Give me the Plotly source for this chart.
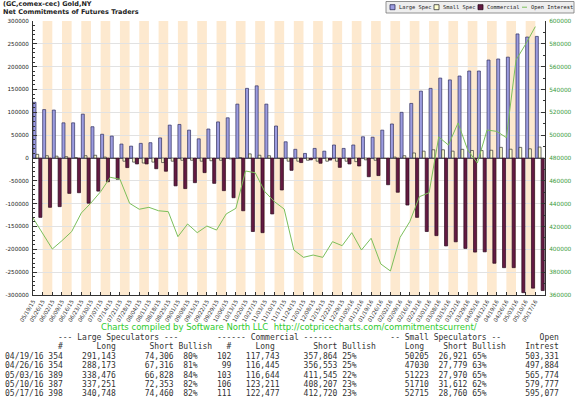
import plotly.graph_objects as go

# ---------------- data ----------------
dates = ["05/19/15","05/26/15","06/02/15","06/09/15","06/16/15","06/23/15","06/30/15",
         "07/07/15","07/14/15","07/21/15","07/28/15","08/04/15","08/11/15","08/18/15",
         "08/25/15","09/01/15","09/08/15","09/15/15","09/22/15","09/29/15","10/06/15",
         "10/13/15","10/20/15","10/27/15","11/03/15","11/10/15","11/17/15","11/24/15",
         "12/01/15","12/08/15","12/15/15","12/22/15","12/29/15","01/05/16","01/12/16",
         "01/19/16","01/26/16","02/02/16","02/09/16","02/16/16","02/23/16","03/01/16",
         "03/08/16","03/15/16","03/22/16","03/29/16","04/05/16","04/12/16","04/19/16",
         "04/26/16","05/03/16","05/10/16","05/17/16"]

large_spec = [122000,106000,105000,77000,77000,96000,68500,52000,48000,30500,
              26000,32000,33500,44000,72000,73500,61000,42000,63500,79000,
              88000,118000,152500,158000,118000,70000,35500,19000,10000,21000,
              15000,28500,21000,28500,46500,45500,61000,74500,100000,119500,
              146500,152500,175000,171000,179500,190500,190500,214500,216837,220857,
              271648,264898,266288]

small_spec = [8000,5000,4000,3000,1000,5000,6000,2000,-1000,-7000,
              -9000,-11000,-9000,-10000,-7000,-5000,-5000,-7000,-6000,-5000,
              -2000,1000,9000,6000,5000,-1000,-7000,-7000,-5000,-7000,
              -7000,-7000,-7000,-8000,-4000,-5000,-1000,2000,5000,11000,
              15000,18000,18000,15000,19000,16500,16500,17000,23284,19251,
              23253,20098,23955]

commercial = [-130000,-108000,-106500,-77500,-76000,-99000,-72500,-52000,-46500,-21000,
              -13000,-13000,-23500,-29000,-61000,-67000,-54000,-32000,-55500,-71500,
              -87000,-115500,-161000,-163500,-122500,-70000,-27000,-10000,-4000,-11500,
              -4500,-20500,-13000,-17500,-41000,-38500,-58500,-75000,-103000,-130000,
              -161000,-170000,-192500,-183500,-198000,-206000,-205500,-230500,-240121,-240108,
              -294901,-284996,-290243]

open_interest = [427500,414300,400300,407600,415500,431800,440600,450500,463100,461400,
                 440300,435100,436800,433800,433000,411100,422200,414600,420400,416900,
                 431000,435900,468600,467100,450500,441700,435300,399400,393000,395000,
                 393000,406700,403200,414600,399400,409700,387200,381000,410500,424200,
                 446100,449600,498400,491400,510700,487000,475600,504500,503331,497884,
                 565774,579777,595077]

left_ticks = [300000,250000,200000,150000,100000,50000,0,-50000,-100000,-150000,-200000,-250000,-300000]
right_ticks = [600000,580000,560000,540000,520000,500000,480000,460000,440000,420000,400000,380000,360000]

# table data
tbl_dates = ["04/19/16","04/26/16","05/03/16","05/10/16","05/17/16"]
ls_traders = [354,354,389,387,398]
ls_long = [291143,288173,338476,337251,340748]
ls_short = [74306,67316,66828,72353,74460]
ls_bull = [80,81,84,82,82]
cm_traders = [102,99,103,106,111]
cm_long = [117743,116445,116644,123211,122477]
cm_short = [357864,356553,411545,408207,412720]
cm_bull = [25,25,22,23,23]
ss_long = [50205,47030,51223,51710,52715]
ss_short = [26921,27779,27970,31612,28760]
ss_bull = [65,63,65,62,65]
oi_tbl = [503331,497884,565774,579777,595077]

# ---------------- figure ----------------
W, H = 576, 397
L, R, T, B = 33, 545, 21, 295

def px(v):
    return (v - L) / (R - L)

def py(v):
    return (B - v) / (B - T)

LS_COL, LS_LINE = "#9c9ce0", "#2e2e5e"
SS_COL, SS_LINE = "#ffffd0", "#333333"
CM_COL, CM_LINE = "#641a42", "#2a0a1c"
OI_COL = "#7cbf5a"

xs = list(range(len(dates)))
fig = go.Figure()
fig.add_trace(go.Bar(x=xs, y=large_spec, offset=0.0, width=0.31, name="Large Spec",
                     marker=dict(color=LS_COL, line=dict(color=LS_LINE, width=0.7))))
fig.add_trace(go.Bar(x=xs, y=small_spec, offset=0.31, width=0.28, name="Small Spec",
                     marker=dict(color=SS_COL, line=dict(color=SS_LINE, width=0.7))))
fig.add_trace(go.Bar(x=xs, y=commercial, offset=0.6, width=0.32, name="Commercial",
                     marker=dict(color=CM_COL, line=dict(color=CM_LINE, width=0.7))))
fig.add_trace(go.Scatter(x=xs, y=open_interest, yaxis="y2", mode="lines", name="Open Interest",
                         line=dict(color=OI_COL, width=1)))

shapes = []
for k in xs:
    if k % 2 == 1:
        shapes.append(dict(type="rect", xref="x", yref="paper", x0=k, x1=k + 1, y0=0, y1=1,
                           fillcolor="#fde9cf", line=dict(width=0), layer="below"))

# manual legend
shapes.append(dict(type="rect", xref="paper", yref="paper", x0=px(386), x1=px(574),
                   y0=py(13), y1=py(1.5), fillcolor="#eeeeee", layer="below",
                   line=dict(color="#777777", width=0.8)))
annotations = []
leg_items = [("Large Spec", LS_COL, LS_LINE, "sq", 390),
             ("Small Spec", SS_COL, SS_LINE, "sq", 434),
             ("Commercial", CM_COL, CM_LINE, "sq", 478),
             ("Open Interest", OI_COL, OI_COL, "ln", 522)]
for name, fc, lc, kind, x0 in leg_items:
    if kind == "sq":
        shapes.append(dict(type="rect", xref="paper", yref="paper", x0=px(x0), x1=px(x0 + 5),
                           y0=py(9.7), y1=py(4.7), fillcolor=fc, line=dict(color=lc, width=0.8)))
    else:
        shapes.append(dict(type="line", xref="paper", yref="paper", x0=px(x0), x1=px(x0 + 5),
                           y0=py(7.2), y1=py(7.2), line=dict(color=lc, width=1)))
    annotations.append(dict(text=name, xref="paper", yref="paper", x=px(x0 + 7), y=py(7.2),
                            xanchor="left", yanchor="middle", showarrow=False,
                            font=dict(family="DejaVu Sans Mono", size=5.4, color="#222222")))

# title
annotations.append(dict(text="<b>(GC,comex-cec) Gold,NY</b>", xref="paper", yref="paper",
                        x=px(1), y=py(4.5), xanchor="left", yanchor="middle", showarrow=False,
                        font=dict(family="DejaVu Sans", size=6.5, color="#222222")))
annotations.append(dict(text="<b>Net Commitments of Futures Traders</b>", xref="paper", yref="paper",
                        x=px(1), y=py(11.5), xanchor="left", yanchor="middle", showarrow=False,
                        font=dict(family="DejaVu Sans", size=6.5, color="#222222")))

# credit line
annotations.append(dict(text="Charts compiled by Software North LLC  http://cotpricecharts.com/commitmentscurrent/",
                        xref="paper", yref="paper", x=px(289), y=py(326.5), xanchor="center",
                        yanchor="middle", showarrow=False,
                        font=dict(family="DejaVu Sans", size=8.5, color="#2ecc2e")))

# table
def place(line, col, text):
    if len(line) < col:
        line = line + " " * (col - len(line))
    return line[:col] + text + line[col + len(text):]

def rjust(line, end, text):
    return place(line, end - len(text), text)

hdr1 = ""
hdr1 = place(hdr1, 11, "--- Large Speculators ---")
hdr1 = place(hdr1, 44, "------ Commercial ------")
hdr1 = place(hdr1, 80, "-- Small Speculators --")
hdr1 = place(hdr1, 111, "Open")
hdr2 = ""
for c, t in [(11, "#"), (19, "Long"), (30, "Short"), (36, "Bullish"), (46, "#"), (52, "Long"),
             (64, "Short"), (70, "Bullish"), (83, "Long"), (91, "Short"), (97, "Bullish"), (108, "Intrest")]:
    hdr2 = place(hdr2, c, t)
lines = [hdr1, hdr2]
for i in range(len(tbl_dates)):
    s = tbl_dates[i]
    s = rjust(s, 12, str(ls_traders[i]))
    s = rjust(s, 23, f"{ls_long[i]:,}")
    s = rjust(s, 35, f"{ls_short[i]:,}")
    s = rjust(s, 40, f"{ls_bull[i]}%")
    s = rjust(s, 47, str(cm_traders[i]))
    s = rjust(s, 57, f"{cm_long[i]:,}")
    s = rjust(s, 69, f"{cm_short[i]:,}")
    s = rjust(s, 73, f"{cm_bull[i]}%")
    s = rjust(s, 88, str(ss_long[i]))
    s = rjust(s, 96, f"{ss_short[i]:,}")
    s = rjust(s, 100, f"{ss_bull[i]}%")
    s = rjust(s, 115, f"{oi_tbl[i]:,}")
    lines.append(s)
row_y = [337, 346.3, 356.5, 365.8, 375, 384.2, 393]
for s, yy in zip(lines, row_y):
    annotations.append(dict(text=s.replace(" ", "\u00a0"), xref="paper", yref="paper",
                            x=px(2.5), y=py(yy), xanchor="left", yanchor="middle", showarrow=False,
                            font=dict(family="DejaVu Sans Mono", size=8.0, color="#333333")))

fig.update_layout(
    width=W, height=H,
    margin=dict(l=L, r=W - R, t=T, b=H - B, pad=0, autoexpand=False),
    paper_bgcolor="white", plot_bgcolor="white",
    barmode="overlay", showlegend=False,
    shapes=shapes, annotations=annotations,
    xaxis=dict(range=[0, len(dates)], tickvals=xs, ticktext=dates, tickangle=-60, automargin=False,
               ticks="inside", ticklen=3, tickcolor="#333333", showline=True, linecolor="#333333",
               linewidth=1, showgrid=False, zeroline=False,
               tickfont=dict(family="DejaVu Sans", size=5.5, color="#333333")),
    yaxis=dict(range=[-300000, 300000], tickvals=left_ticks, ticktext=[str(v) for v in left_ticks],
               automargin=False, ticklabelstandoff=2,
               ticks="inside", ticklen=4, tickcolor="#333333", showline=True, linecolor="#333333",
               linewidth=1, showgrid=True, gridcolor="#e2e2e2", gridwidth=0.6,
               zeroline=True, zerolinecolor="#666666", zerolinewidth=0.6,
               minor=dict(dtick=10000, ticks="inside", ticklen=2, tickcolor="#333333", showgrid=False),
               tickfont=dict(family="DejaVu Sans", size=5.6, color="#222222")),
    yaxis2=dict(range=[360000, 600000], overlaying="y", side="right", automargin=False,
                ticklabelstandoff=2,
                tickvals=right_ticks, ticktext=[str(v) for v in right_ticks],
                ticks="inside", ticklen=4, tickcolor="#333333", showline=True, linecolor="#333333",
                linewidth=1, showgrid=False, zeroline=False,
                minor=dict(dtick=10000, ticks="inside", ticklen=2, tickcolor="#333333"),
                tickfont=dict(family="DejaVu Sans", size=5.8, color="#3a9a3a")),
)

fig.write_html("out.html", config={"displayModeBar": False},
               post_script="document.body.style.margin='0px';document.body.style.overflow='hidden';")
